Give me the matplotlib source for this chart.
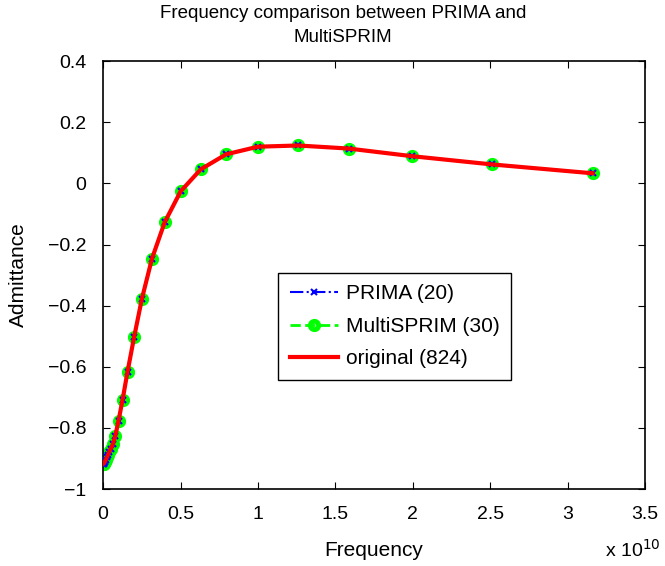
import numpy as np
import matplotlib.pyplot as plt
from matplotlib.ticker import FuncFormatter

plt.rcParams['font.family'] = ['Liberation Sans', 'DejaVu Sans']

# sample frequencies (Hz) and admittance
freq = [0.0, 0.003e10, 0.006e10, 0.01e10, 0.016e10, 0.025e10, 0.032e10, 0.04e10,
        0.05e10, 0.063e10, 0.079e10, 0.1e10, 0.126e10, 0.158e10, 0.2e10,
        0.251e10, 0.316e10, 0.398e10, 0.501e10, 0.631e10, 0.794e10, 1.0e10,
        1.259e10, 1.585e10, 1.995e10, 2.512e10, 3.162e10]
adm = [-0.918, -0.917, -0.915, -0.912, -0.906, -0.896, -0.888, -0.878,
       -0.868, -0.854, -0.826, -0.776, -0.708, -0.616, -0.504,
       -0.377, -0.246, -0.127, -0.026, 0.046, 0.095, 0.120,
       0.124, 0.114, 0.089, 0.062, 0.033]


def yfmt(v, p):
    v = round(v, 2)
    if abs(v) < 1e-9:
        return '0'
    return ('%g' % v).replace('-', '\u2212')


fig = plt.figure(figsize=(6.65, 5.66), dpi=100)
ax = fig.add_axes([0.155, 0.136, 0.815, 0.756])

ax.plot(freq, adm, color='blue', ls='-.', marker='x', ms=4.5, mew=1.5, lw=1.5,
        label='PRIMA (20)', zorder=3)
ax.plot(freq, adm, color='#00ff00', ls='--', marker='o', ms=6, mew=3.5,
        mfc='none', lw=2, label='MultiSPRIM (30)', zorder=2)
ax.plot(freq, adm, color='red', lw=3, label='original (824)', zorder=4)

ax.set_xlim(0, 3.5e10)
ax.set_ylim(-1, 0.4)
ax.set_xticks(np.arange(0, 3.51e10, 0.5e10))
ax.set_yticks(np.arange(-1, 0.41, 0.2))
ax.xaxis.set_major_formatter(FuncFormatter(lambda v, p: '%g' % round(v / 1e10, 2)))
ax.yaxis.set_major_formatter(FuncFormatter(yfmt))
ax.tick_params(direction='in', labelsize=14, length=5, top=True, right=True)
ax.tick_params(axis='x', pad=12)
ax.tick_params(axis='y', pad=12)
for s in ax.spines.values():
    s.set_linewidth(1.2)

ax.text(1.028, -0.117, 'x 10$^{10}$', transform=ax.transAxes, ha='right',
        va='top', fontsize=14)
ax.set_xlabel('Frequency', fontsize=15, labelpad=13)
ax.set_ylabel('Admittance', fontsize=15, labelpad=14)
fig.text(343 / 665, 0.992, 'Frequency comparison between PRIMA and\nMultiSPRIM',
         ha='center', va='top', fontsize=13.5, linespacing=1.6)

leg = ax.legend(loc='lower left', bbox_to_anchor=(0.323, 0.255), fontsize=15,
                fancybox=False, edgecolor='black', framealpha=1,
                handlelength=2.3, handletextpad=0.4, borderpad=0.55,
                labelspacing=0.65, borderaxespad=0)
leg.get_frame().set_linewidth(1.0)

fig.savefig('out.png', dpi=100)
